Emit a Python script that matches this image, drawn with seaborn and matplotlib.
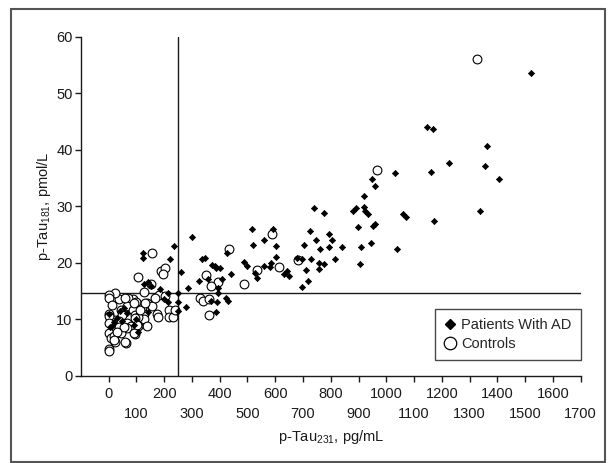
import numpy as np
import pandas as pd
import matplotlib
matplotlib.use("Agg")
import matplotlib.pyplot as plt
import seaborn as sns
from matplotlib.patches import Rectangle
from matplotlib.lines import Line2D

sns.set_style("ticks")
plt.rcParams['font.family'] = ['Liberation Sans', 'DejaVu Sans']
plt.rcParams['mathtext.fontset'] = 'custom'
plt.rcParams['mathtext.rm'] = 'Liberation Sans'

# Patients With AD (p-Tau231 pg/mL, p-Tau181 pmol/L)
ad_x = [1523, 1362, 1357, 1406, 1338, 1148, 1168, 1226, 1162, 1171, 1031, 1039, 1062, 1070,
        949, 959, 919, 879, 892, 919, 925, 934, 897, 959, 952, 910, 944, 904,
        738, 775, 724, 794, 746, 805, 840, 794, 760, 705, 816, 728, 696, 679, 775, 756, 759,
        710, 719, 696,
        515, 593, 520, 560, 603, 602, 583, 560, 527, 534, 489, 498, 581, 632, 644, 651,
        300, 425, 335, 348, 384, 401, 409, 439, 327, 286, 359, 393, 395, 422, 430, 369, 391,
        279, 387, 262, 236, 222, 371, 388,
        125, 125, 143, 128, 151, 184, 215, 213, 199, 250, 250, 248, 142, 107, 48, 30, 66, 12,
        0, 5, 40, 20, 90, 55, 100]
ad_y = [53.6, 40.6, 37.2, 34.9, 29.2, 44.1, 43.7, 37.7, 36.0, 27.4, 35.8, 22.5, 28.6, 28.0,
        34.9, 33.5, 31.8, 29.1, 29.7, 29.9, 29.1, 28.6, 26.3, 26.8, 26.5, 22.7, 23.4, 19.7,
        29.7, 28.8, 25.6, 25.1, 24.1, 24.0, 22.7, 22.8, 22.4, 23.1, 20.6, 20.6, 20.6, 20.9, 19.8,
        19.9, 18.8, 18.7, 16.8, 15.7,
        25.9, 26.0, 23.1, 24.0, 22.9, 21.0, 19.9, 19.5, 18.2, 17.3, 20.1, 19.5, 19.2, 18.0, 18.6, 17.6,
        24.6, 21.7, 20.7, 20.8, 19.5, 19.1, 17.2, 18.0, 16.8, 15.6, 17.1, 15.6, 14.6, 13.8, 13.3,
        13.2, 13.0, 12.2, 11.2, 18.4, 23.0, 20.7, 19.6, 19.0,
        21.8, 20.9, 16.6, 16.2, 15.8, 15.3, 14.6, 13.0, 13.6, 14.7, 13.0, 11.4, 11.2, 7.7, 9.6,
        10.2, 11.1, 8.8, 10.9, 8.6, 11.5, 9.5, 9.0, 12.0, 10.0]

# Controls
ctrl_x = [1327, 966, 588, 434, 681, 612, 534, 488, 395, 352, 370, 328, 339, 361, 361,
          156, 104, 152, 126, 187, 203, 194, 182, 202, 216, 216, 233, 240, 174, 177, 139, 128,
          126, 121, 156, 139, 107, 93, 62, 86, 70, 38, 22, 1, 1, 13, 43, 65, 86, 93, 48, 22,
          1, 1, 36, 65, 79, 65, 36, 1, 1, 8, 18, 22, 43, 1, 1, 107, 100, 60, 90, 114, 132, 96,
          54, 102, 90, 60, 30, 18, 168]
ctrl_y = [56.1, 36.4, 25.0, 22.5, 20.4, 19.3, 18.7, 16.2, 16.5, 17.8, 15.9, 13.8, 13.3, 13.6, 10.7,
          21.7, 17.4, 16.3, 14.9, 18.6, 19.1, 18.0, 14.3, 14.1, 11.6, 10.3, 10.3, 11.6, 11.0, 10.3,
          12.9, 11.0, 10.0, 12.2, 12.3, 8.8, 8.8, 7.3, 5.8, 13.6, 13.8, 13.5, 14.6, 14.3, 13.8,
          12.5, 11.7, 12.4, 11.6, 10.7, 10.7, 9.9, 11.0, 10.6, 9.6, 9.3, 8.8, 8.4, 8.7, 9.3, 7.5,
          6.6, 7.0, 6.0, 7.5, 4.7, 4.4, 10.4, 13.1, 13.7, 12.8, 11.6, 12.8, 10.2,
          8.7, 9.0, 7.5, 6.0, 7.8, 6.3, 13.7]

cutoff_x = 248
cutoff_y = 14.6
x_ticks_upper = list(range(0, 1700, 200))   # 0, 200, ... 1600
x_ticks_lower = list(range(100, 1800, 200))  # 100, 300, ... 1700
y_ticks = list(range(0, 70, 10))

ad = pd.DataFrame({'ptau231': ad_x, 'ptau181': ad_y})
ctrl = pd.DataFrame({'ptau231': ctrl_x, 'ptau181': ctrl_y})

fig = plt.figure(figsize=(6.08, 4.63), dpi=100)
ax = fig.add_axes([0.1332, 0.1886, 0.8216, 0.7321])

ink = '#1a1a1a'
fs = 10.5
ax.axvline(cutoff_x, color=ink, lw=1.0, zorder=1)
ax.axhline(cutoff_y, color=ink, lw=1.0, zorder=1)

sns.scatterplot(data=ctrl, x='ptau231', y='ptau181', marker='o', s=40,
                facecolor='white', edgecolor='black', linewidth=0.8, ax=ax, zorder=2)
sns.scatterplot(data=ad, x='ptau231', y='ptau181', marker='D', s=10,
                color='black', edgecolor='black', linewidth=0.5, ax=ax, zorder=3)

ax.set_xlim(-100, 1700)
ax.set_ylim(0, 60)
ax.set_yticks(y_ticks)
ax.set_xticks(x_ticks_upper)
ax.set_xticklabels([str(v) for v in x_ticks_upper])
ax.set_xticks(x_ticks_lower, minor=True)
ax.set_xticklabels([str(v) for v in x_ticks_lower], minor=True)

sns.despine(ax=ax)
for s in ['left', 'bottom']:
    ax.spines[s].set_linewidth(1.0)
    ax.spines[s].set_color(ink)
ax.tick_params(axis='both', which='both', length=4, width=1.0, color=ink,
               labelsize=fs, labelcolor=ink)
ax.tick_params(axis='x', which='major', pad=4)
ax.tick_params(axis='x', which='minor', pad=18.5)
ax.tick_params(axis='y', pad=2)

ax.set_xlabel('p-Tau$_{231}$, pg/mL', fontsize=fs, color=ink, labelpad=5)
ax.set_ylabel('p-Tau$_{181}$, pmol/L', fontsize=fs, color=ink, labelpad=2)

handles = [Line2D([], [], marker='D', linestyle='', color='black', markersize=5.5),
           Line2D([], [], marker='o', linestyle='', markerfacecolor='white',
                  markeredgecolor='black', markersize=9, markeredgewidth=0.9)]
leg = ax.legend(handles, ['Patients With AD', 'Controls'], loc='lower right',
                bbox_to_anchor=(1.0, 0.046), frameon=True, fancybox=False,
                fontsize=fs, handlelength=0.8, handletextpad=0.4,
                borderpad=0.6, labelspacing=0.35, borderaxespad=0)
leg.get_frame().set_edgecolor(ink)
leg.get_frame().set_linewidth(1.0)

fig.patches.append(Rectangle((0.018, 0.003), 0.977, 0.977, transform=fig.transFigure,
                             fill=False, edgecolor='#555555', linewidth=1.5))

fig.savefig('out.png', dpi=100, facecolor='white')
